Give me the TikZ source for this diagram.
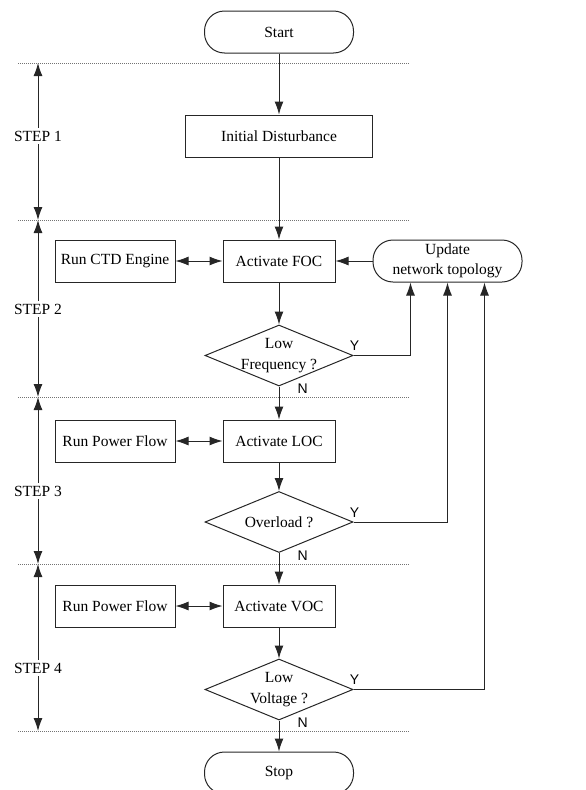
\documentclass[tikz,border=0pt]{standalone}
\usepackage{fontspec}
\setmainfont{Liberation Serif}
\setsansfont{Liberation Sans}
\usetikzlibrary{positioning}
\usetikzlibrary{arrows.meta,shapes.geometric}

\begin{document}
\begin{tikzpicture}[->, >={Latex[length=13pt,width=9pt]}, on grid,
                    line width = 1pt, color = black!85, text = black,
                    font = \fontsize{15.5}{20.5}\selectfont,
                    box/.style      = {rectangle,
                                       draw,
                                       minimum width = 112pt,
                                       minimum height = 42pt},
                    side/.style     = {box,
                                       minimum width = 120pt},
                    term/.style     = {rectangle,
                                       rounded corners = 20pt,
                                       draw,
                                       align = center,
                                       minimum width = 149pt,
                                       minimum height = 42pt},
                    decision/.style = {diamond,
                                       draw,
                                       inner sep = 0pt,
                                       minimum width = 148pt,
                                       minimum height = 61pt},
                    yn/.style       = {font = \sffamily\fontsize{14}{16}\selectfont,
                                       inner sep = 0pt},
                    divider/.style  = {-, densely dotted, black!55},
                    steplbl/.style  = {fill = white, inner xsep = 1pt, inner ysep = 3pt}]

\useasboundingbox (0,0) rectangle (586pt,-790pt);

\node[term] (start) at (279pt,-32pt) {Start};
\node[box] (init) [minimum width = 187pt, below = 104pt of start] {Initial Disturbance};
\node[box] (foc) [below = 125pt of init] {Activate FOC};
\node[side] (ctd) [left = 164pt of foc] {Run CTD Engine};
\node[term] (upd) [right = 168.5pt of foc] {Update\\network topology};

\node[decision] (dec1) [below = 94.5pt of foc,
                        label = {[align = center]center:Low\\Frequency ?}] {};
\node[box] (loc) [below = 85.5pt of dec1] {Activate LOC};
\node[side] (pf1) [left = 164pt of loc] {Run Power Flow};

\node[decision] (dec2) [below = 81pt of loc, label = center:Overload ?] {};
\node[box] (voc) [below = 84pt of dec2] {Activate VOC};
\node[side] (pf2) [left = 164pt of voc] {Run Power Flow};

\node[decision] (dec3) [below = 83.5pt of voc,
                        label = {[align = center]center:Low\\Voltage ?}] {};
\node[term] (stop) [below = 83.5pt of dec3] {Stop};

% step dividers
\foreach \y [count=\i] in {63,220,397,564,731} {
  \coordinate (l\i) at (18pt,-\y pt);
  \coordinate (s\i) at (38pt,-\y pt);
  \coordinate (r\i) at (410pt,-\y pt);
  \draw[divider] (l\i) -- (r\i);
}
\foreach \a/\b/\p [count=\i] in {s1/s2/0.465, s2/s3/0.503, s3/s4/0.563, s4/s5/0.623}
  \draw[<->] (\a) -- node[steplbl, pos = \p] {STEP \i} (\b);

% main flow
\path (start) edge (init)
      (init)  edge (foc)
      (foc)   edge (dec1)
      (dec1)  edge (loc)
      (loc)   edge (dec2)
      (dec2)  edge (voc)
      (voc)   edge (dec3)
      (dec3)  edge (stop)
      (upd)   edge (foc);
\path[<->] (ctd) edge (foc)
           (pf1) edge (loc)
           (pf2) edge (voc);

% Y branches
\draw (dec1.east) -| ([xshift = -37pt]upd.south);
\draw (dec2.east) -| (upd.south);
\draw (dec3.east) -| ([xshift = 37pt]upd.south);

\foreach \d in {1,2,3} {
  \node[yn, anchor = south] (y\d) at ([shift = {(1pt,4.5pt)}]dec\d.east) {Y};
  \node[yn, anchor = north west] (n\d) at ([shift = {(18pt,3pt)}]dec\d.south) {N};
}

\end{tikzpicture}
\end{document}
